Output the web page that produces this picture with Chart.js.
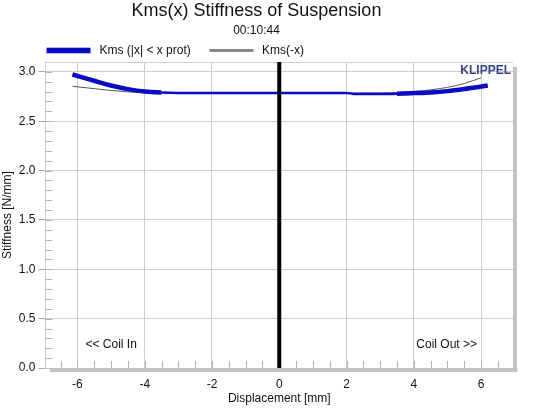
<!DOCTYPE html>
<html>
<head>
<meta charset="utf-8">
<title>Kms(x) Stiffness of Suspension</title>
<script src="https://cdn.jsdelivr.net/npm/chart.js@4.4.0/dist/chart.umd.min.js"></script>
<style>
  html, body { margin: 0; padding: 0; background: #fff; }
  #wrap { width: 541px; height: 412px; }
</style>
</head>
<body>
<div id="wrap"><canvas id="chart"></canvas></div>
<script>
// Kms(x) for |x| < x prot
const kmsX = [-6.15, -5.5, -5.0, -4.5, -4.0, -3.5, -3.0, -2.0, -1.0, 0, 1.0, 2.0, 2.2, 2.5, 3.0, 3.5, 4.0, 4.5, 5.0, 5.5, 6.2];
const kmsY = [2.973, 2.91, 2.862, 2.825, 2.800, 2.790, 2.787, 2.787, 2.787, 2.787, 2.787, 2.787, 2.777, 2.776, 2.776, 2.779, 2.785, 2.792, 2.805, 2.826, 2.861];

// Kms(-x), mirrored curve
const kmsNegX = [-6.15, -5.5, -5.0, -4.5, -4.0, -3.5, -3.0, -2.0, -1.0, 0, 1.0, 2.0, 3.0, 3.5, 4.0, 4.5, 5.0, 5.5, 6.0];
const kmsNegY = [2.854, 2.830, 2.812, 2.797, 2.789, 2.787, 2.786, 2.786, 2.786, 2.786, 2.786, 2.786, 2.787, 2.790, 2.800, 2.818, 2.843, 2.882, 2.940];

// x = 0 marker
const zeroLineX = [0, 0];
const zeroLineY = [0, 3.1];

const xTicks = [-6, -4, -2, 0, 2, 4, 6];
const yTicks = [0, 0.5, 1.0, 1.5, 2.0, 2.5, 3.0];

const BLUE = '#0b0bc4';
const FONT = '"Liberation Sans", Arial, sans-serif';

function pts(xs, ys) {
    return xs.map((x, i) => ({ x: x, y: ys[i] }));
}

const decorations = {
    id: 'decorations',
    beforeDatasetsDraw(chart) {
        const { ctx, chartArea: a, scales: { x, y } } = chart;
        ctx.save();
        // minor ticks on y (every 0.1), inside the plot
        ctx.strokeStyle = '#b4b4b4';
        ctx.lineWidth = 1;
        ctx.beginPath();
        for (let i = 1; i < 31; i++) {
            const py = Math.round(y.getPixelForValue(i / 10)) + 0.5;
            ctx.moveTo(a.left, py);
            ctx.lineTo(a.left + 7, py);
        }
        // minor ticks on x (every 0.5), inside the plot
        for (let i = -13; i <= 13; i++) {
            const px = Math.round(x.getPixelForValue(i / 2)) + 0.5;
            ctx.moveTo(px, a.bottom);
            ctx.lineTo(px, a.bottom - 7);
        }
        ctx.stroke();
        // frame top line
        ctx.strokeStyle = '#d0d0d0';
        ctx.beginPath();
        ctx.moveTo(a.left, Math.round(a.top) + 0.5);
        ctx.lineTo(a.right, Math.round(a.top) + 0.5);
        ctx.stroke();
        ctx.restore();
    },
    afterDraw(chart) {
        const { ctx, chartArea: a } = chart;
        ctx.save();
        // drop shadow on right and bottom
        ctx.fillStyle = '#c3c3c3';
        ctx.fillRect(a.right, a.top + 5, 4, a.bottom - a.top - 1);
        ctx.fillRect(a.left + 4.5, a.bottom, a.right - a.left, 4);

        // KLIPPEL mark
        ctx.font = 'bold 12px ' + FONT;
        ctx.fillStyle = '#34468e';
        ctx.textAlign = 'right';
        ctx.textBaseline = 'middle';
        ctx.fillText('KLIPPEL', a.right - 2, a.top + 9);

        // coil direction notes
        ctx.font = '12px ' + FONT;
        ctx.fillStyle = '#111';
        ctx.textAlign = 'left';
        ctx.fillText('<< Coil In', a.left + 40, a.bottom - 23);
        ctx.textAlign = 'right';
        ctx.fillText('Coil Out >>', a.right - 36, a.bottom - 23);

        // legend
        const ds = chart.data.datasets;
        const ly = 50.5;
        ctx.textAlign = 'left';
        ctx.fillStyle = ds[0].borderColor;
        ctx.fillRect(a.left + 1, ly - 2.8, 44, 5.6);
        ctx.fillStyle = '#111';
        ctx.fillText(ds[0].label, a.left + 54, ly);
        ctx.fillStyle = '#888888';
        ctx.fillRect(a.left + 164, ly - 1.5, 44, 3);
        ctx.fillStyle = '#111';
        ctx.fillText(ds[1].label, a.left + 216.5, ly);
        ctx.restore();
    }
};

// thicker trace towards the ends, thinner across the flat middle
function kmsWidth(c) {
    const mid = (c.p0.parsed.x + c.p1.parsed.x) / 2;
    return (mid < -3.6 || mid > 3.4) ? 4.5 : 2.5;
}

new Chart(document.getElementById('chart'), {
    type: 'line',
    data: {
        datasets: [{
            label: 'Kms (|x| < x prot)',
            data: pts(kmsX, kmsY),
            borderColor: BLUE,
            borderWidth: 4,
            pointRadius: 0,
            cubicInterpolationMode: 'monotone',
            segment: { borderWidth: kmsWidth },
            order: 1,
        }, {
            label: 'Kms(-x)',
            data: pts(kmsNegX, kmsNegY),
            borderColor: '#555555',
            borderWidth: 1,
            pointRadius: 0,
            cubicInterpolationMode: 'monotone',
            order: 2,
        }, {
            label: 'x = 0',
            data: pts(zeroLineX, zeroLineY),
            borderColor: '#000000',
            borderWidth: 4,
            pointRadius: 0,
            order: 0,
        }]
    },
    options: {
        responsive: true,
        maintainAspectRatio: false,
        animation: false,
        layout: { padding: { left: 0, right: 28, top: 0, bottom: 0 } },
        scales: {
            x: {
                type: 'linear',
                min: -6.95,
                max: 6.95,
                afterBuildTicks: (scale) => { scale.ticks = xTicks.map(v => ({ value: v })); },
                afterFit: (scale) => { scale.height = 44; },
                grid: { color: '#cccccc', drawTicks: false },
                border: { color: '#c3c3c3' },
                ticks: {
                    padding: 9,
                    color: '#111',
                    font: { family: FONT, size: 12 },
                },
                title: {
                    display: true,
                    text: 'Displacement [mm]',
                    color: '#111',
                    font: { family: FONT, size: 12 },
                    padding: { top: 0, bottom: 6 },
                },
            },
            y: {
                min: 0,
                max: 3.1,
                afterBuildTicks: (scale) => { scale.ticks = yTicks.map(v => ({ value: v })); },
                afterFit: (scale) => { scale.width = 45.5; },
                grid: { color: '#cccccc', tickLength: 7, tickColor: '#aaaaaa' },
                border: { color: '#cccccc' },
                ticks: {
                    padding: 3,
                    color: '#111',
                    font: { family: FONT, size: 12 },
                    callback: (value) => value.toFixed(1),
                },
                title: {
                    display: true,
                    text: 'Stiffness [N/mm]',
                    color: '#111',
                    font: { family: FONT, size: 12 },
                    padding: { top: 0, bottom: 0 },
                },
            }
        },
        plugins: {
            legend: { display: false },
            tooltip: { enabled: false },
            title: {
                display: true,
                text: 'Kms(x) Stiffness of Suspension',
                color: '#111',
                font: { family: FONT, size: 18, weight: 'normal' },
                padding: { top: 0, bottom: 0 },
            },
            subtitle: {
                display: true,
                text: '00:10:44',
                color: '#111',
                font: { family: FONT, size: 12 },
                padding: { top: 2, bottom: 24 },
            },
        },
    },
    plugins: [decorations],
});
</script>
</body>
</html>
